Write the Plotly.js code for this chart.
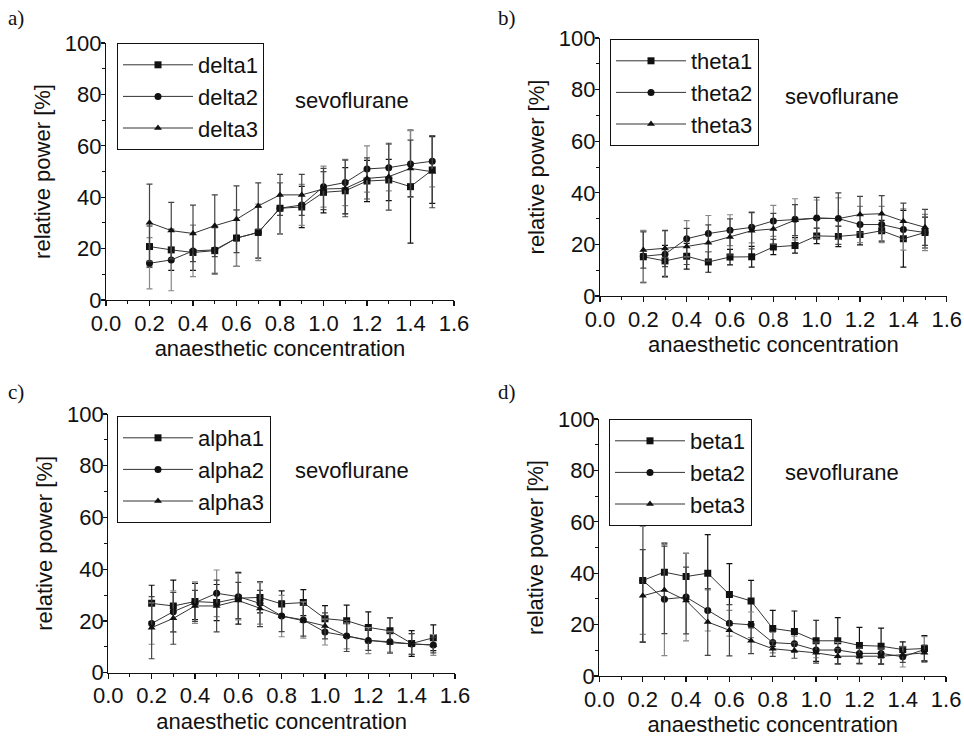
<!DOCTYPE html>
<html><head><meta charset="utf-8">
<script src="https://cdn.plot.ly/plotly-3.0.1.min.js"></script>
<style>body{margin:0;background:#fff}#p{width:964px;height:744px}</style>
</head><body><div id="p"></div>
<script>
const conc = [0.2,0.3,0.4,0.5,0.6,0.7,0.8,0.9,1.0,1.1,1.2,1.3,1.4,1.5];

const delta1 = [20.8,19.5,18.5,19.2,24.1,26.3,35.7,36.2,41.9,42.5,46.3,46.7,44.1,50.6];
const delta2 = [14.3,15.6,19.1,19.5,24.1,26.3,35.7,37.0,44.1,45.7,51.0,51.5,52.9,54.0];
const delta3 = [30.1,27.0,25.9,28.9,31.4,36.6,40.9,40.9,43.2,43.4,47.3,48.0,51.2,49.9];
const delta1Err = [8,8,7,9,11,10,10,8,8,9,8,8,22,13];
const delta2Err = [10,12,10,9,11,11,10,8,8,9,9,9,13,10];
const delta3Err = [15,11,11,12,13,9,8,8,8,11,8,13,11,14];

const theta1 = [15.2,13.6,15.4,13.2,15.1,15.2,19.0,19.6,23.3,23.1,23.8,25.3,22.2,24.6];
const theta2 = [15.4,16.2,22.2,24.2,25.5,26.6,29.1,29.7,30.2,30.0,27.7,27.7,25.8,24.6];
const theta3 = [17.8,18.4,19.2,20.6,22.9,25.3,26.0,29.4,30.2,30.0,31.6,31.9,29.0,26.6];
const theta1Err = [10,6,5,4,3,4,3,3,3,4,4,4,11,6];
const theta2Err = [10,9,7,7,6,6,6,8,7,8,7,7,8,7];
const theta3Err = [7,7,7,7,7,7,6,6,8,10,7,7,7,7];

const alpha1 = [26.8,25.8,27.5,27.1,28.8,29.1,26.6,27.1,20.9,20.1,17.5,16.2,11.3,13.5];
const alpha2 = [19.0,23.6,27.1,30.7,29.4,26.8,21.9,20.4,15.7,14.2,12.4,12.0,11.1,10.7];
const alpha3 = [17.4,21.0,25.8,25.8,27.9,24.8,21.9,20.1,18.1,14.2,12.6,11.6,11.1,10.7];
const alpha1Err = [7,10,7,7,10,6,5,5,5,6,6,5,5,5];
const alpha2Err = [8,8,8,9,9,8,8,7,5,5,5,4,4,4];
const alpha3Err = [12,10,6,10,7,7,6,6,5,6,4,4,4,3];

const beta1 = [37.2,40.4,38.7,40.0,31.7,29.2,18.5,17.3,13.7,13.7,11.9,11.6,10.3,10.7];
const beta2 = [37.2,29.9,30.7,25.5,20.5,19.9,13.0,12.5,10.1,10.1,8.8,8.8,7.5,10.3];
const beta3 = [31.2,33.5,29.4,21.0,17.8,13.7,10.6,9.9,9.0,7.7,7.7,7.7,8.3,9.0];
const beta1Err = [24,11,9,15,12,8,7,8,8,9,7,7,3,5];
const beta2Err = [21,22,17,8,5,5,4,3,3,3,2,2,4,5];
const beta3Err = [18,17,13,13,10,5,3,3,4,3,3,3,3,3];

const xTicks = [0.0,0.2,0.4,0.6,0.8,1.0,1.2,1.4,1.6];
const yTicks = [0,20,40,60,80,100];
const xAxisTitle = 'anaesthetic concentration';
const yAxisTitle = 'relative power [%]';
const drugLabel = 'sevoflurane';
const panelLabels = ['a)','b)','c)','d)'];

const panels = [
  {names:['delta1','delta2','delta3'], ys:[delta1,delta2,delta3], errs:[delta1Err,delta2Err,delta3Err]},
  {names:['theta1','theta2','theta3'], ys:[theta1,theta2,theta3], errs:[theta1Err,theta2Err,theta3Err]},
  {names:['alpha1','alpha2','alpha3'], ys:[alpha1,alpha2,alpha3], errs:[alpha1Err,alpha2Err,alpha3Err]},
  {names:['beta1','beta2','beta3'], ys:[beta1,beta2,beta3], errs:[beta1Err,beta2Err,beta3Err]}
];

const W = 964, H = 744;
// pixel boxes [left, right, top, bottom]
const boxes = [[106,454,43,300],[600,946.7,38,296],[108.3,455,414,672.7],[599.4,946.1,419,676]];
const legBoxes = [[117,43],[610,39],[117,416],[609,419]];
const sevoPos = [[352,100],[842,96],[352,470],[842,472]];
const labelPos = [[6,18],[496,18],[6,392],[496,392]];

const symbols = ['square','circle','triangle-up'];
const errColors = ['#111','#888','#444'];
const FONT = 'Liberation Sans, Arial, sans-serif';
const FS = 22;

const traces = [];
const layout = {
  width: W, height: H, margin:{l:0,r:0,t:0,b:0},
  paper_bgcolor:'#fff', plot_bgcolor:'#fff',
  font:{family:FONT, color:'#111', size:FS},
  showlegend:true, annotations:[]
};

panels.forEach((p, i) => {
  const k = i === 0 ? '' : String(i+1);
  const legName = 'legend' + k;
  p.names.forEach((nm, j) => {
    traces.push({
      type:'scatter', mode:'lines+markers', name:nm,
      x: conc, y: p.ys[j],
      xaxis:'x'+k, yaxis:'y'+k, legend: legName,
      line:{color:'#333', width:1},
      marker:{symbol:symbols[j], size:7, color:'#111'},
      error_y:{type:'data', array:p.errs[j], visible:true, color:errColors[j], thickness:1.2, width:3}
    });
  });
  const b = boxes[i];
  const axBase = {
    showline:true, linecolor:'#111', linewidth:1.2, ticks:'outside', ticklen:5, tickwidth:1.2,
    tickcolor:'#111', showgrid:false, zeroline:false, mirror:false,
    tickfont:{family:FONT, size:FS, color:'#111'},
    minor:{ticks:'outside', ticklen:3, tickcolor:'#111', tickwidth:1, showgrid:false}
  };
  layout['xaxis'+k] = Object.assign({}, axBase, {
    domain:[b[0]/W, b[1]/W], anchor:'y'+k, range:[0,1.6], ticklabelstandoff:-2,
    tickvals:xTicks, ticktext:xTicks.map(v=>v.toFixed(1)),
    minor:Object.assign({}, axBase.minor, {dtick:0.1, tick0:0}),
    title:{text:xAxisTitle, font:{family:FONT, size:FS, color:'#111'}, standoff:6}
  });
  layout['yaxis'+k] = Object.assign({}, axBase, {
    domain:[1-b[3]/H, 1-b[2]/H], anchor:'x'+k, range:[0,100], ticklen:4, ticklabelstandoff:-5,
    tickvals:yTicks, ticktext:yTicks.map(String),
    minor:Object.assign({}, axBase.minor, {dtick:10, tick0:0}),
    title:{text:yAxisTitle, font:{family:FONT, size:FS, color:'#111'}, standoff:8}
  });
  const lb = legBoxes[i];
  layout[legName] = {
    x: lb[0]/W, y: 1-lb[1]/H, xanchor:'left', yanchor:'top', xref:'paper', yref:'paper',
    bgcolor:'#fff', bordercolor:'#111', borderwidth:1, itemwidth:70,
    font:{family:FONT, size:FS, color:'#111'}, tracegroupgap:0
  };
  layout.annotations.push({
    x: sevoPos[i][0]/W, y: 1-sevoPos[i][1]/H, xref:'paper', yref:'paper',
    text: drugLabel, showarrow:false, xanchor:'center', yanchor:'middle',
    font:{family:FONT, size:FS, color:'#111'}
  });
  layout.annotations.push({
    x: labelPos[i][0]/W, y: 1-labelPos[i][1]/H, xref:'paper', yref:'paper',
    text: panelLabels[i], showarrow:false, xanchor:'left', yanchor:'middle',
    font:{family:'Liberation Serif, Times New Roman, serif', size:21, color:'#111'}
  });
});

Plotly.newPlot('p', traces, layout, {staticPlot:true});
</script></body></html>
